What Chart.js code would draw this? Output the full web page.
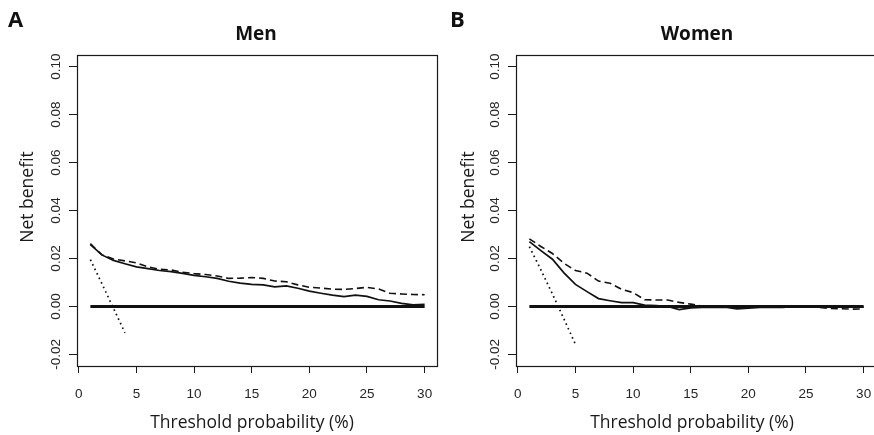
<!DOCTYPE html>
<html>
<head>
<meta charset="utf-8">
<script src="https://cdn.jsdelivr.net/npm/chart.js@4.4.1/dist/chart.umd.min.js"></script>
<style>
  html, body { margin: 0; padding: 0; background: #fff; overflow: hidden; width: 874px; height: 435px; }
  canvas { position: absolute; top: 0; }
  #men { left: 0; }
  #women { left: 440px; }
</style>
</head>
<body>
<canvas id="men" width="440" height="435"></canvas>
<canvas id="women" width="437" height="435"></canvas>
<script>
// Threshold probabilities (%) evaluated by the decision curves
const thresholds = [1, 2, 3, 4, 5, 6, 7, 8, 9, 10, 11, 12, 13, 14, 15,
                    16, 17, 18, 19, 20, 21, 22, 23, 24, 25, 26, 27, 28, 29, 30];

// Men: net benefit of the two prediction models (solid / dashed)
const menSolid = [0.0258, 0.0215, 0.0192, 0.0178, 0.0165, 0.0158, 0.0150, 0.0145, 0.0138, 0.0130,
                  0.0124, 0.0117, 0.0105, 0.0097, 0.0092, 0.0090, 0.0082, 0.0086, 0.0076, 0.0064,
                  0.0055, 0.0047, 0.0041, 0.0047, 0.0042, 0.0028, 0.0023, 0.0013, 0.0007, 0.0009];
const menDashed = [0.0262, 0.0215, 0.0198, 0.0190, 0.0182, 0.0165, 0.0155, 0.0152, 0.0143, 0.0137,
                   0.0133, 0.0127, 0.0117, 0.0118, 0.0121, 0.0117, 0.0106, 0.0103, 0.0090, 0.0080,
                   0.0077, 0.0072, 0.0071, 0.0075, 0.0080, 0.0073, 0.0055, 0.0052, 0.0050, 0.0049];
// Men: treat all
const menAllX = [1, 2, 3, 4];
const menAllY = [0.0195, 0.0095, -0.0007, -0.0110];

// Women: net benefit of the two prediction models (solid / dashed)
const womenSolid = [0.0270, 0.0233, 0.0197, 0.0140, 0.0092, 0.0062, 0.0033, 0.0024, 0.0016, 0.0016,
                    0.0006, 0.0004, 0.0000, -0.0013, -0.0006, -0.0004, -0.0004, -0.0003, -0.0010, -0.0007,
                    -0.0004, -0.0003, -0.0004, 0.0000, 0.0000, 0.0002, 0.0001, -0.0003, -0.0003, -0.0003];
const womenDashed = [0.0282, 0.0250, 0.0221, 0.0180, 0.0150, 0.0139, 0.0106, 0.0097, 0.0072, 0.0058,
                     0.0028, 0.0027, 0.0027, 0.0017, 0.0010, 0.0001, -0.0001, -0.0002, -0.0003, -0.0002,
                     -0.0001, 0.0000, -0.0002, -0.0001, -0.0001, -0.0003, -0.0008, -0.0009, -0.0011, -0.0010];
// Women: treat all
const womenAllX = [1, 2, 3, 4, 5];
const womenAllY = [0.0249, 0.0153, 0.0052, -0.0052, -0.0158];

// Treat none
const noneX = [1, 30];
const noneY = [0, 0];

// Axis ticks and limits
const xTicks = [0, 5, 10, 15, 20, 25, 30];
const yTicks = [-0.02, 0.00, 0.02, 0.04, 0.06, 0.08, 0.10];
const xLimits = [1, 30];
const yLimits = [-0.02, 0.10];

const pad = (lo, hi) => (hi - lo) * 0.04;
const pts = (xs, ys) => xs.map((x, i) => ({ x: x, y: ys[i] }));

const TITLE_FONT = '"Open Sans", "DejaVu Sans", sans-serif';
const TICK_FONT = '"Liberation Sans", Arial, sans-serif';
const INK = '#1a1a1a';

function panelPlugin(p) {
  return {
    id: 'panelDecor',
    afterDraw(chart) {
      const ctx = chart.ctx;
      const a = chart.chartArea;
      const ys = chart.scales.y;
      ctx.save();
      // frame around the plotting region
      ctx.strokeStyle = INK;
      ctx.lineWidth = 1.2;
      ctx.strokeRect(a.left + 0.5, a.top + 0.5, a.right - a.left - 1, a.bottom - a.top);

      // rotated y tick labels
      ctx.fillStyle = '#262626';
      ctx.font = '13.5px ' + TICK_FONT;
      ctx.textAlign = 'center';
      ctx.textBaseline = 'alphabetic';
      ys.ticks.forEach(t => {
        const py = ys.getPixelForValue(t.value);
        ctx.save();
        ctx.translate(a.left - 17, py);
        ctx.rotate(-Math.PI / 2);
        ctx.fillText(t.value.toFixed(2), 0, 0);
        ctx.restore();
      });

      // panel letter and title
      ctx.fillStyle = '#111';
      ctx.textAlign = 'left';
      ctx.font = 'bold 22px ' + TITLE_FONT;
      ctx.fillText(p.letter, p.letterX, 27);
      ctx.textAlign = 'center';
      ctx.font = 'bold 19px ' + TITLE_FONT;
      ctx.fillText(p.title, p.titleX, 40);

      // axis titles
      ctx.font = '17.5px ' + TITLE_FONT;
      ctx.fillStyle = '#1a1a1a';
      ctx.fillText('Threshold probability (%)', p.xlabX, 428);
      ctx.save();
      ctx.translate(p.ylabX, p.ylabY);
      ctx.rotate(-Math.PI / 2);
      ctx.fillText('Net benefit', 0, 0);
      ctx.restore();
      ctx.restore();
    }
  };
}

function makePanel(p) {
  const xPad = pad(xLimits[0], xLimits[1]);
  const yPad = pad(yLimits[0], yLimits[1]);
  const line = (data, width, dash) => ({
    data: data,
    borderColor: '#111',
    borderWidth: width,
    borderDash: dash,
    borderCapStyle: 'butt',
    pointRadius: 0,
    tension: 0,
    fill: false
  });
  new Chart(document.getElementById(p.id), {
    type: 'line',
    data: {
      datasets: [
        line(pts(thresholds, p.solid), 1.7, []),
        line(pts(thresholds, p.dashed), 1.6, [7, 4]),
        line(pts(p.allX, p.allY), 1.7, [1.6, 3.4]),
        line(pts(noneX, noneY), 2.8, [])
      ]
    },
    options: {
      responsive: false,
      animation: false,
      devicePixelRatio: 1,
      layout: { padding: { left: 0, top: 55, right: p.rightPad, bottom: 0 } },
      plugins: { legend: { display: false }, tooltip: { enabled: false }, title: { display: false } },
      scales: {
        x: {
          type: 'linear',
          min: xLimits[0] - xPad,
          max: xLimits[1] + xPad,
          afterBuildTicks: s => { s.ticks = xTicks.map(v => ({ value: v })); },
          afterFit: s => { s.height = 69; s.paddingLeft = 0; s.paddingRight = 0; },
          border: { display: false },
          grid: { display: true, drawOnChartArea: false, drawTicks: true, tickLength: 7, color: INK, lineWidth: 1 },
          ticks: {
            color: '#262626',
            font: { family: TICK_FONT, size: 13.5 },
            padding: 13,
            maxRotation: 0,
            autoSkip: false,
            callback: v => String(v)
          }
        },
        y: {
          type: 'linear',
          min: yLimits[0] - yPad,
          max: yLimits[1] + yPad,
          afterBuildTicks: s => { s.ticks = yTicks.map(v => ({ value: v })); },
          afterFit: s => { s.width = p.yWidth; s.paddingTop = 0; s.paddingBottom = 0; },
          border: { display: false },
          grid: { display: true, drawOnChartArea: false, drawTicks: true, tickLength: 8, color: INK, lineWidth: 1 },
          ticks: { display: false }
        }
      }
    },
    plugins: [panelPlugin(p)]
  });
}

makePanel({
  id: 'men', letter: 'A', letterX: 8, title: 'Men', titleX: 256,
  xlabX: 252, ylabX: 33, ylabY: 197, yWidth: 77, rightPad: 2,
  solid: menSolid, dashed: menDashed, allX: menAllX, allY: menAllY
});
makePanel({
  id: 'women', letter: 'B', letterX: 10, title: 'Women', titleX: 257,
  xlabX: 252, ylabX: 34, ylabY: 197, yWidth: 76, rightPad: 0,
  solid: womenSolid, dashed: womenDashed, allX: womenAllX, allY: womenAllY
});
</script>
</body>
</html>
